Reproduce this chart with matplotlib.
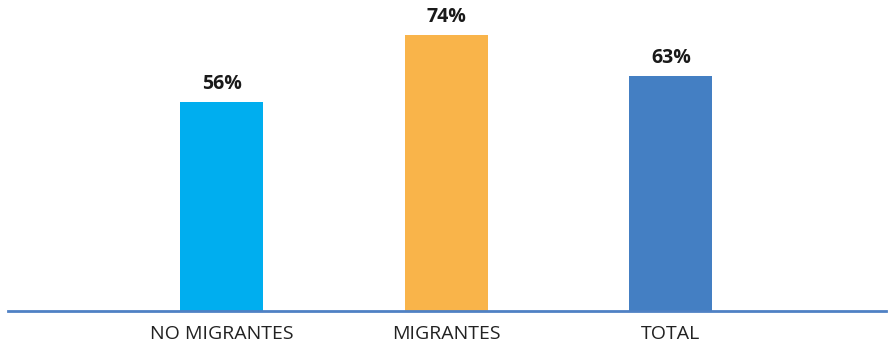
import matplotlib
matplotlib.use("Agg")
import matplotlib.pyplot as pl

# Share by migrant status
categories = ["NO MIGRANTES", "MIGRANTES", "TOTAL"]
values = [56, 74, 63]
labels = ["56%", "74%", "63%"]
colors = ["#00AEEF", "#F9B44A", "#447FC3"]

pl.rcParams['font.family'] = ['Open Sans', 'DejaVu Sans']

fig = pl.figure(figsize=(8.95, 3.49), dpi=100)
ax = fig.add_axes([8/895, 38/349, 878/895, 311/349])

x = range(len(categories))
ax.bar(x, values, width=0.37, color=colors, zorder=2)

for xi, v, lab in zip(x, values, labels):
    ax.text(xi, v + 2.0, lab, ha='center', va='bottom', fontsize=14,
            fontweight='bold', color='#1a1a1a')

ax.set_xlim(-0.953, 2.958)
ax.set_ylim(0, 83.3)
ax.set_xticks(list(x))
ax.set_xticklabels(categories, fontsize=14, color='#222222')
ax.tick_params(axis='x', length=0, pad=10)
ax.set_yticks([])

for s in ['top', 'right', 'left']:
    ax.spines[s].set_visible(False)
ax.spines['bottom'].set_color('#4F81C4')
ax.spines['bottom'].set_linewidth(2)

pl.savefig('out.png', dpi=100)
